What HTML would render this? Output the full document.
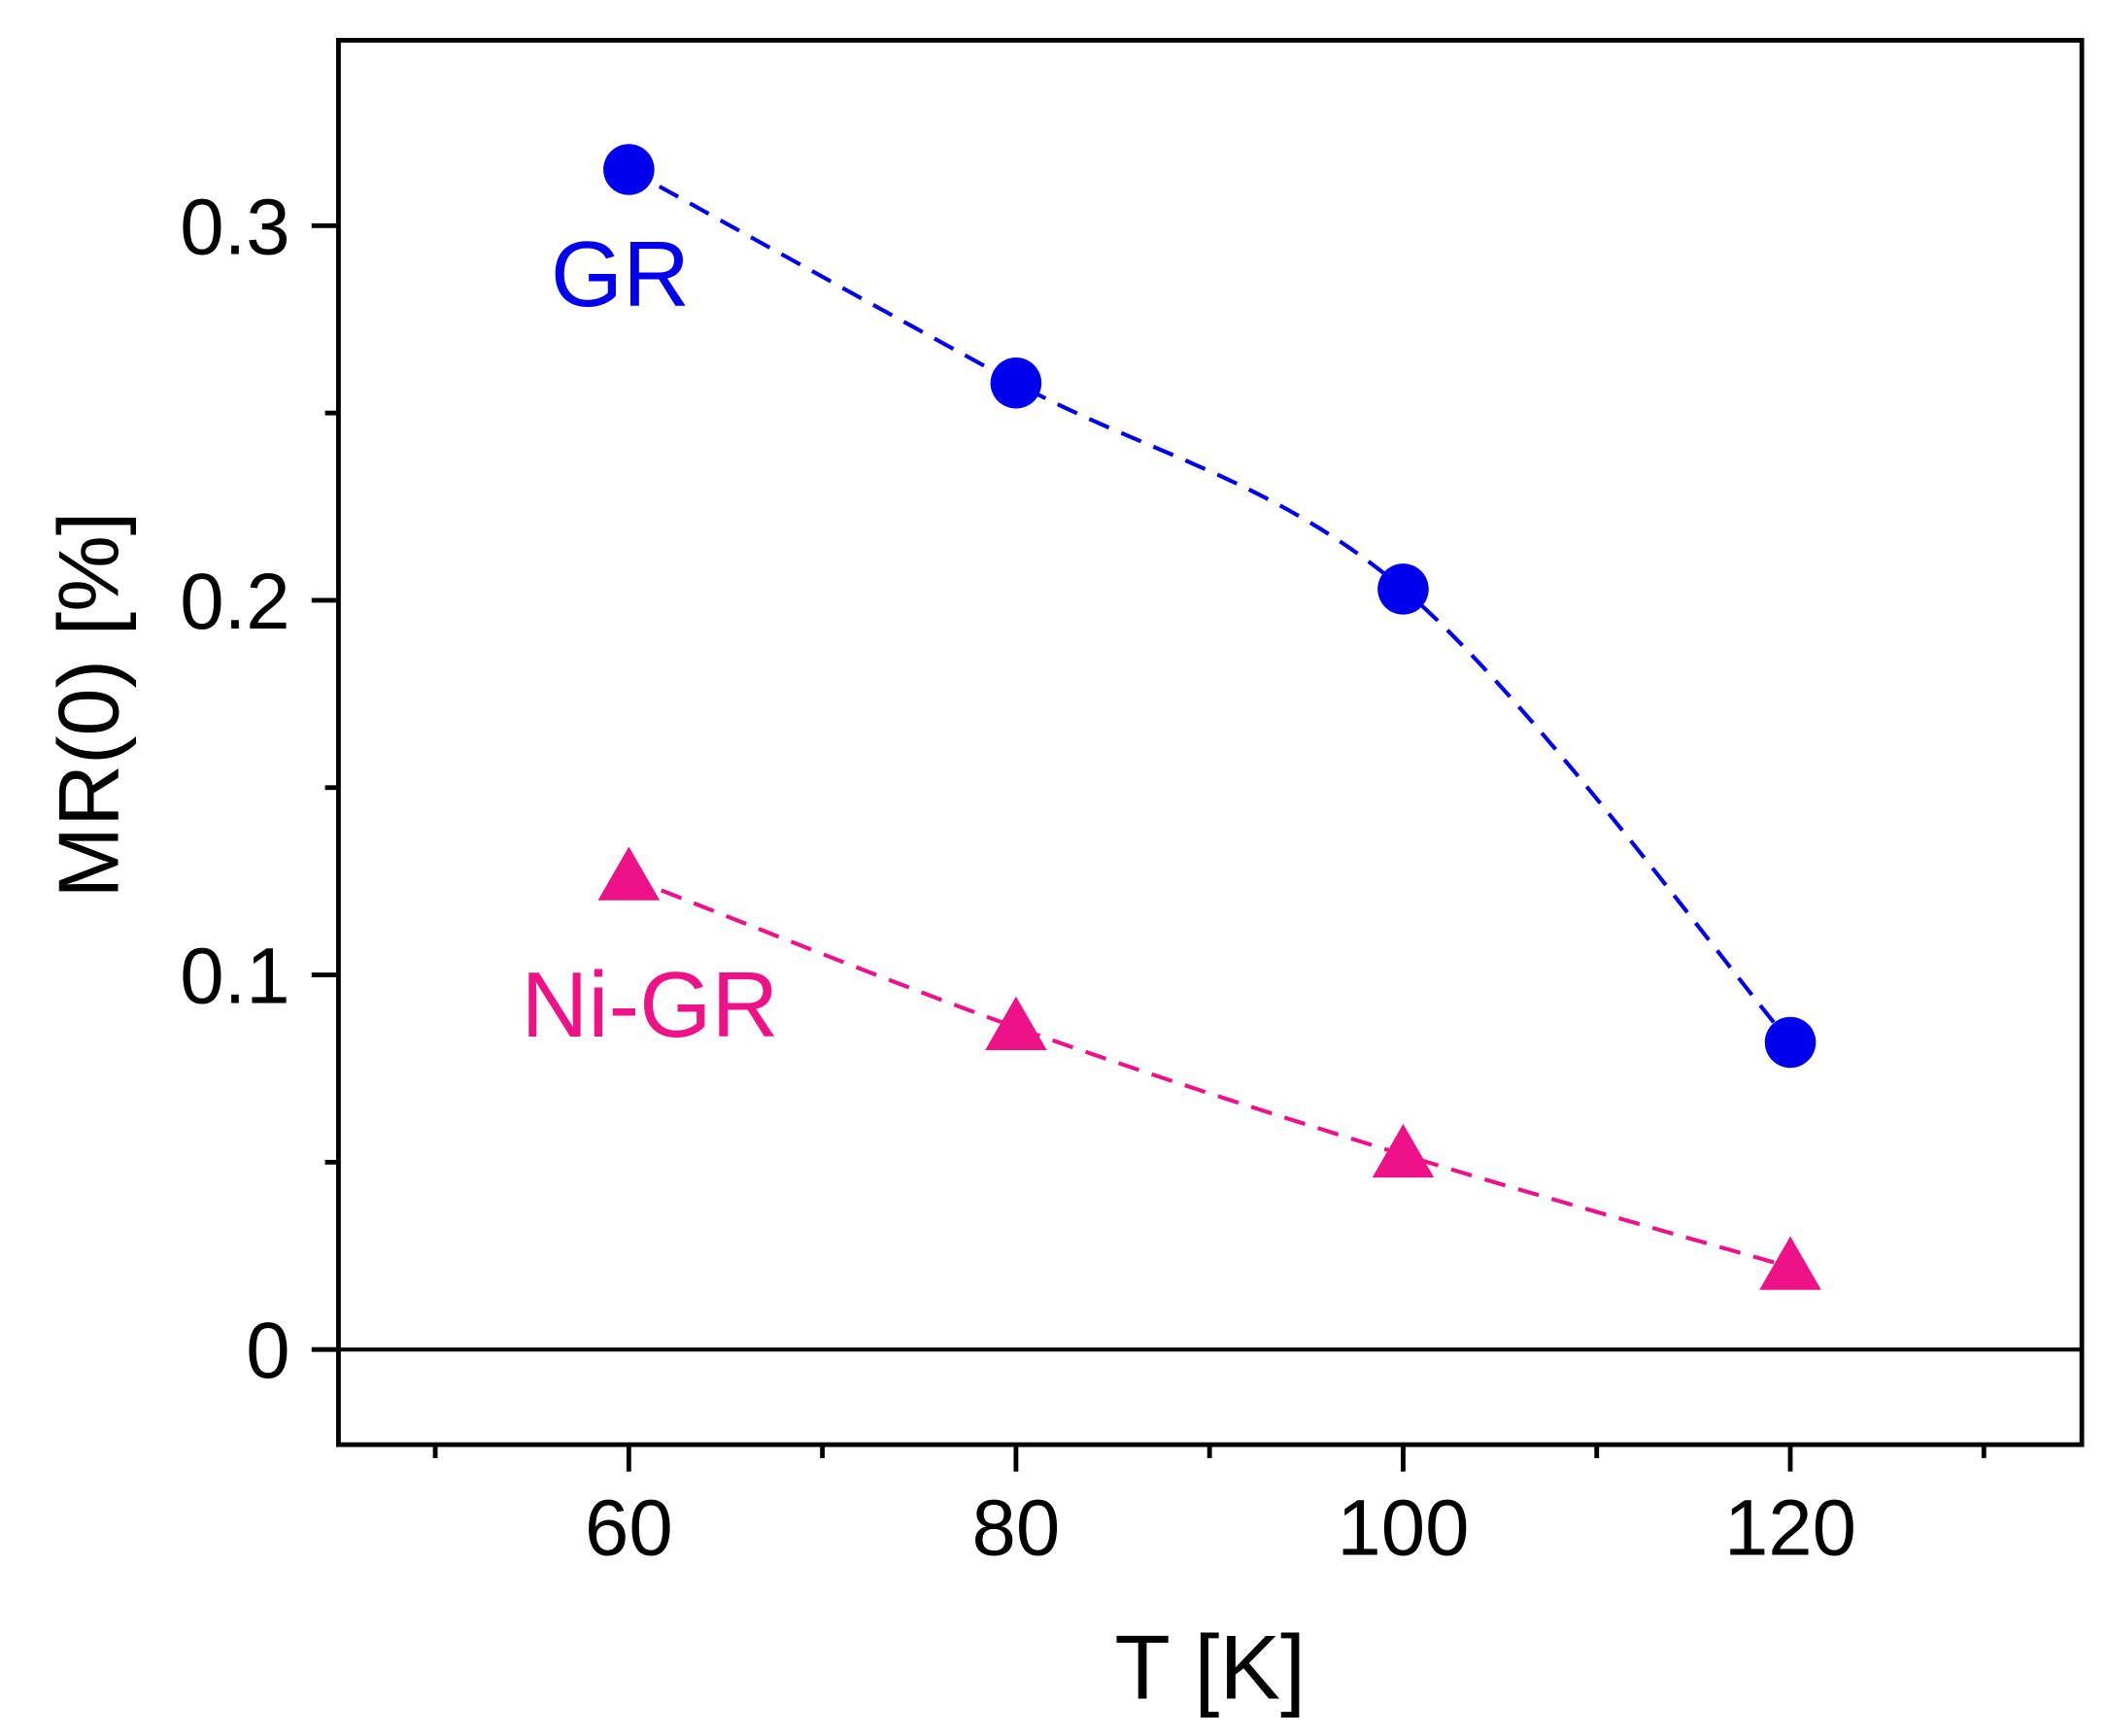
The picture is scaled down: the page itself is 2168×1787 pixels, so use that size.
<!DOCTYPE html>
<html><head><meta charset="utf-8"><style>html,body{margin:0;padding:0;background:#fff}svg{display:block}</style></head>
<body>
<svg id="chart" width="2168" height="1787" viewBox="0 0 1568 1293" preserveAspectRatio="none" xmlns="http://www.w3.org/2000/svg" font-family="Liberation Sans, Arial, sans-serif">
<g id="axes"></g>
<g id="marks"></g>
</svg>
<script>
const temps = [60, 80, 100, 120];
const grValues = [0.315, 0.258, 0.203, 0.082];
const niValues = [0.126, 0.086, 0.052, 0.022];
const xTicks = [60, 80, 100, 120];
const xMinor = [50, 70, 90, 110, 130];
const yTicks = [0, 0.1, 0.2, 0.3];
const yTickLabels = ["0", "0.1", "0.2", "0.3"];
const yMinor = [0.05, 0.15, 0.25];

const L=252,R=1550,T=30,B=1076;
const xMin=45,xMax=135.06,yMin=-0.0254,yMax=0.3495;
const xs=v=>L+(v-xMin)/(xMax-xMin)*(R-L);
const ys=v=>B-(v-yMin)/(yMax-yMin)*(B-T);
const NS="http://www.w3.org/2000/svg";
function mk(tag,attrs,parent){const e=document.createElementNS(NS,tag);for(const k in attrs)e.setAttribute(k,attrs[k]);parent.appendChild(e);return e;}
const ax=document.getElementById('axes'), mg=document.getElementById('marks');

let e=mk('rect',{x:L,y:T,width:R-L,height:B-T,fill:'none',stroke:'#000','stroke-width':3.5},ax);


e=mk('line',{x1:L,x2:R,y1:ys(0),y2:ys(0),stroke:'#000','stroke-width':3},ax);



xTicks.forEach(v=>{
  e=mk('line',{x1:xs(v),x2:xs(v),y1:B,y2:B+20,stroke:'#000','stroke-width':3.5},ax);
  
  
  e=mk('text',{x:xs(v),y:B+82,'font-size':59,'text-anchor':'middle',fill:'#000'},ax);
  e.textContent=v;
  
  
});
xMinor.forEach(v=>{
  e=mk('line',{x1:xs(v),x2:xs(v),y1:B,y2:B+10,stroke:'#000','stroke-width':3.5},ax);
  
  
});
yTicks.forEach((v,i)=>{
  e=mk('line',{x1:L-20,x2:L,y1:ys(v),y2:ys(v),stroke:'#000','stroke-width':3.5},ax);
  
  
  e=mk('text',{x:L-36,y:ys(v)+21,'font-size':59,'text-anchor':'end',fill:'#000'},ax);
  e.textContent=yTickLabels[i];
  
  
});
yMinor.forEach(v=>{
  e=mk('line',{x1:L-10,x2:L,y1:ys(v),y2:ys(v),stroke:'#000','stroke-width':3.5},ax);
  
  
});
e=mk('text',{x:(L+R)/2,y:1265,'font-size':68,'text-anchor':'middle',fill:'#000'},ax);
e.textContent='T [K]';


e=mk('text',{x:0,y:0,'font-size':64,'text-anchor':'middle',fill:'#000',transform:`translate(88,${(T+B)/2-28}) rotate(-90)`},ax);
e.textContent='MR(0) [%]';



function smoothPath(px,py){
  let d=`M${px[0]},${py[0]}`;
  for(let i=0;i<px.length-1;i++){
    const x0=px[Math.max(i-1,0)],y0=py[Math.max(i-1,0)],x3=px[Math.min(i+2,px.length-1)],y3=py[Math.min(i+2,px.length-1)];
    const c1x=px[i]+(px[i+1]-x0)/6,c1y=py[i]+(py[i+1]-y0)/6,c2x=px[i+1]-(x3-px[i])/6,c2y=py[i+1]-(y3-py[i])/6;
    d+=` C${c1x},${c1y} ${c2x},${c2y} ${px[i+1]},${py[i+1]}`;
  }
  return d;
}
const px=temps.map(xs);
e=mk('path',{d:smoothPath(px,grValues.map(ys)),fill:'none',stroke:'#0000ee','stroke-width':3,'stroke-dasharray':'16,10'},mg);


e=mk('path',{d:smoothPath(px,niValues.map(ys)),fill:'none',stroke:'#ee1188','stroke-width':3,'stroke-dasharray':'16,10'},mg);


temps.forEach((t,i)=>{
  e=mk('circle',{cx:xs(t),cy:ys(grValues[i]),r:19,fill:'#0000ee'},mg);
  
  
  const cx=xs(t),cy=ys(niValues[i]);
  e=mk('polygon',{points:`${cx-23},${cy+17} ${cx+23},${cy+17} ${cx},${cy-23}`,fill:'#ee1188'},mg);
  
  
});
e=mk('text',{x:410,y:228,'font-size':69,fill:'#0000ee'},mg);
e.textContent='GR';


e=mk('text',{x:388,y:772,'font-size':69,fill:'#ee1188'},mg);
e.textContent='Ni-GR';


</script>
</body></html>
